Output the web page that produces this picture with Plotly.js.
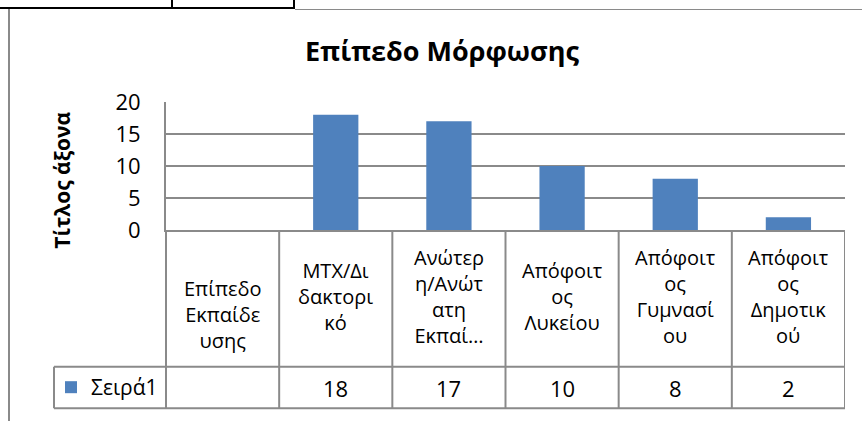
<!DOCTYPE html>
<html>
<head>
<meta charset="utf-8">
<script src="https://cdn.plot.ly/plotly-3.0.1.min.js"></script>
<style>
  body { margin: 0; background: #fff; }
  #wrap { position: relative; width: 862px; height: 421px; overflow: hidden; }
  #chart { position: absolute; left: 0; top: 0; width: 862px; height: 421px; }
  .ln { position: absolute; pointer-events: none; }
</style>
</head>
<body>
<div id="wrap">
  <div id="chart"></div>
  <!-- bits of the sheet behind the chart -->
  <div class="ln" style="left:0;top:7px;width:295px;height:2px;background:#000"></div>
  <div class="ln" style="left:171px;top:0;width:2px;height:8px;background:#000"></div>
  <div class="ln" style="left:293px;top:0;width:2px;height:9px;background:#000"></div>
  <div class="ln" style="left:295px;top:9px;width:567px;height:1px;background:#8a8a8a"></div>
  <div class="ln" style="left:8px;top:9px;width:2px;height:412px;background:#8a8a8a"></div>
</div>
<script>
// data
var categories = ["Επίπεδο Εκπαίδευσης", "ΜΤΧ/Διδακτορικό", "Ανώτερη/Ανώτατη Εκπαίδευση",
                  "Απόφοιτος Λυκείου", "Απόφοιτος Γυμνασίου", "Απόφοιτος Δημοτικού"];
// wrapped the way the sheet shows them
var tick_labels = [["Επίπεδο", "Εκπαίδε", "υσης"],
                   ["ΜΤΧ/Δι", "δακτορι", "κό"],
                   ["Ανώτερ", "η/Ανώτ", "ατη", "Εκπαί…"],
                   ["Απόφοιτ", "ος", "Λυκείου"],
                   ["Απόφοιτ", "ος", "Γυμνασί", "ου"],
                   ["Απόφοιτ", "ος", "Δημοτικ", "ού"]];
var values = [null, 18, 17, 10, 8, 2];
var series_name = "Σειρά1";

var font = "'Open Sans', 'Noto Sans', sans-serif";
var grid = "#8a8a8a";

// plot area in pixels
var plotTop = 102, plotBottom = 232, plotLeft = 166, plotRight = 845;
var labelRowBottom = 371, valueRowBottom = 413, legendLeft = 54;

function py(px) { return (plotBottom - px) / (plotBottom - plotTop); }
function pxp(px) { return (px - plotLeft) / (plotRight - plotLeft); }

var data = [{
    x: categories,
    y: values,
    type: "bar",
    name: series_name,
    marker: {color: "#4f81bd"},
    hoverinfo: "x+y"
}];

var annotations = [];
var shapes = [];

// data table below the plot
for (var i = 0; i < categories.length; i++) {
    var mid = (i == 0) ? 318 : 300;   // first cell sits a bit lower in the sheet
    annotations.push({
        x: categories[i], xref: "x",
        y: py(mid), yref: "paper",
        text: tick_labels[i].join("<br>"), showarrow: false,
        xanchor: "center", yanchor: "middle", align: "center",
        font: {family: font, size: 20, color: "#000"}
    });
    annotations.push({
        x: categories[i], xref: "x",
        y: py((labelRowBottom + valueRowBottom) / 2), yref: "paper",
        text: values[i] == null ? "" : String(values[i]), showarrow: false,
        xanchor: "center", yanchor: "middle",
        font: {family: font, size: 22, color: "#000"}
    });
    shapes.push({
        type: "line", xref: "x", yref: "paper",
        x0: i + 0.5, x1: i + 0.5, y0: 0, y1: py(valueRowBottom),
        line: {color: grid, width: 2}
    });
}
shapes.push({type: "line", xref: "paper", yref: "paper", x0: 0, x1: 0, y0: 0, y1: py(valueRowBottom),
             line: {color: grid, width: 2}});
shapes.push({type: "line", xref: "paper", yref: "paper", x0: pxp(legendLeft), x1: 1,
             y0: py(labelRowBottom), y1: py(labelRowBottom), line: {color: grid, width: 2}});
shapes.push({type: "line", xref: "paper", yref: "paper", x0: pxp(legendLeft), x1: 1,
             y0: py(valueRowBottom), y1: py(valueRowBottom), line: {color: grid, width: 2}});
shapes.push({type: "line", xref: "paper", yref: "paper", x0: pxp(legendLeft), x1: pxp(legendLeft),
             y0: py(labelRowBottom), y1: py(valueRowBottom), line: {color: grid, width: 2}});

// axis title
annotations.push({
    x: pxp(62), xref: "paper", y: py(181), yref: "paper",
    text: "<b>Τίτλος άξονα</b>", textangle: -90, showarrow: false,
    xanchor: "center", yanchor: "middle",
    font: {family: font, size: 21, color: "#000"}
});

var layout = {
    width: 862, height: 421,
    margin: {l: plotLeft, r: 862 - plotRight, t: plotTop, b: 421 - plotBottom},
    paper_bgcolor: "#fff", plot_bgcolor: "#fff",
    font: {family: font, color: "#000"},
    title: {
        text: "<b>Επίπεδο Μόρφωσης</b>",
        font: {family: font, size: 27, color: "#000"},
        x: 442 / 862, xref: "container", xanchor: "center",
        y: 1 - 52 / 421, yref: "container", yanchor: "middle"
    },
    bargap: 0.6,
    showlegend: true,
    legend: {
        x: pxp(legendLeft - 3), xanchor: "left",
        y: py((labelRowBottom + valueRowBottom) / 2), yanchor: "middle",
        font: {family: font, size: 21, color: "#000"},
        bgcolor: "rgba(0,0,0,0)", borderwidth: 0,
        itemwidth: 30
    },
    xaxis: {
        type: "category",
        range: [-0.5, categories.length - 0.5],
        showticklabels: false, ticks: "",
        showgrid: false, zeroline: false,
        showline: true, linecolor: grid, linewidth: 2
    },
    yaxis: {
        range: [0, 20], dtick: 5,
        showgrid: true, gridcolor: grid, gridwidth: 2,
        zeroline: false,
        showline: true, linecolor: grid, linewidth: 2,
        ticks: "", ticklabelstandoff: 19,
        tickfont: {family: font, size: 22, color: "#000"}
    },
    annotations: annotations,
    shapes: shapes
};

Plotly.newPlot("chart", data, layout, {displayModeBar: false, staticPlot: true});
</script>
</body>
</html>
